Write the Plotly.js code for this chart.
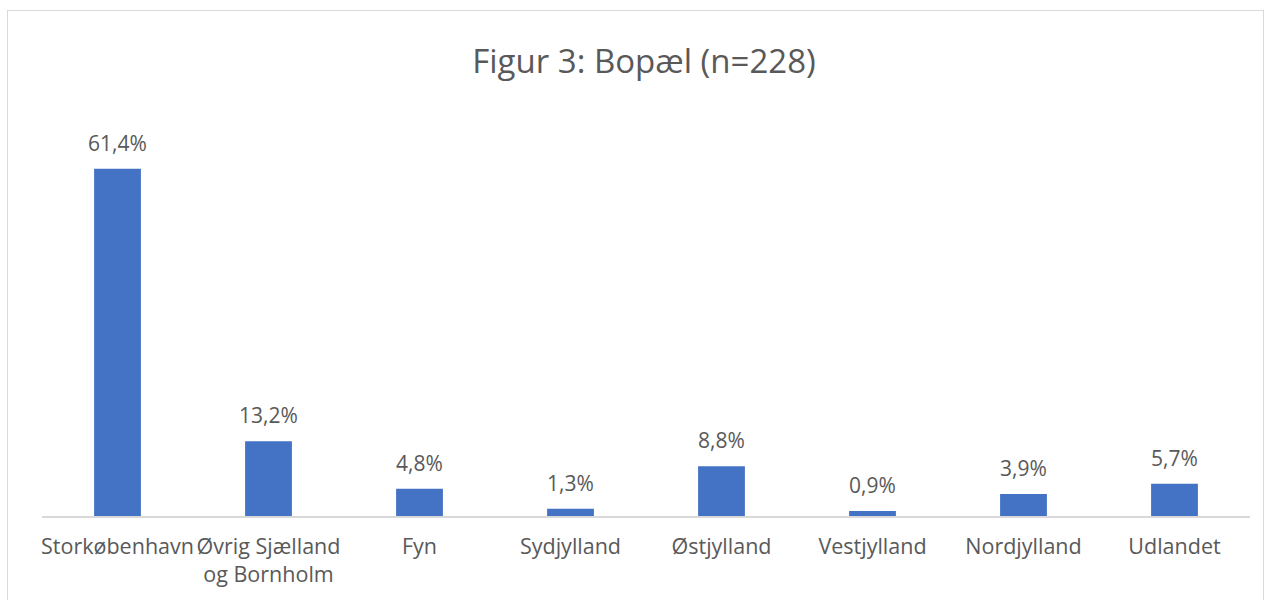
<!DOCTYPE html>
<html>
<head>
<meta charset="utf-8">
<script src="https://cdn.plot.ly/plotly-3.0.1.min.js"></script>
<style>
html,body{margin:0;padding:0;background:#fff;}
#chart{position:absolute;left:0;top:0;width:1271px;height:600px;}
#frame{position:absolute;left:7px;top:10px;width:1255px;height:600px;border:1px solid #d9d9d9;pointer-events:none;}
</style>
</head>
<body>
<div id="chart"></div>
<div id="frame"></div>
<script>
const categories = ["Storkøbenhavn", "Øvrig Sjælland<br>og Bornholm", "Fyn", "Sydjylland", "Østjylland", "Vestjylland", "Nordjylland", "Udlandet"];
const values = [61.4, 13.2, 4.8, 1.3, 8.8, 0.9, 3.9, 5.7];
const labels = ["61,4%", "13,2%", "4,8%", "1,3%", "8,8%", "0,9%", "3,9%", "5,7%"];

const font = "'Open Sans', sans-serif";
const textColor = "#595959";

const trace = {
  type: "bar",
  x: categories,
  y: values,
  marker: {color: "#4472C4", line: {color: "#ffffff", width: 0}},
  hoverinfo: "skip"
};

const annotations = categories.map((c, i) => ({
  x: c, y: values[i], xref: "x", yref: "y",
  text: labels[i], showarrow: false, yanchor: "bottom", yshift: 10,
  font: {family: font, size: 21, color: textColor}
}));

const layout = {
  width: 1271, height: 600,
  margin: {l: 42, r: 21, t: 120, b: 84},
  paper_bgcolor: "#ffffff", plot_bgcolor: "#ffffff",
  title: {text: "Figur 3: Bopæl (n=228)", font: {family: font, size: 33, color: textColor}, x: 0.5067, xanchor: "center", y: 0.897, yanchor: "middle"},
  bargap: 0.69,
  showlegend: false,
  xaxis: {
    type: "category", showgrid: false, zeroline: false,
    showline: true, linecolor: "#d9d9d9", linewidth: 1.5,
    ticks: "", ticklabelstandoff: 11, tickangle: 0,
    tickfont: {family: font, size: 21.5, color: textColor}
  },
  yaxis: {range: [0, 70], visible: false, showgrid: false, zeroline: false, fixedrange: true},
  annotations: annotations
};

Plotly.newPlot("chart", [trace], layout, {displayModeBar: false, staticPlot: true});
</script>
</body>
</html>
